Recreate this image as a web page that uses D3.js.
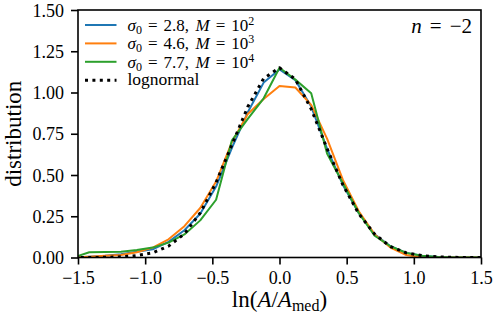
<!DOCTYPE html>
<html>
<head>
<meta charset="utf-8">
<script src="https://cdn.jsdelivr.net/npm/d3@7"></script>
<style>
  body { margin: 0; background: #fff; }
</style>
</head>
<body>
<div id="chart"></div>
<script>
// bin centres of ln(A/A_med)
const binX = [-1.534, -1.416, -1.298, -1.180, -1.062, -0.944, -0.826, -0.708, -0.590, -0.472,
  -0.354, -0.236, -0.118, 0.000, 0.118, 0.236, 0.354, 0.472, 0.590, 0.708,
  0.826, 0.944, 1.062, 1.180, 1.298, 1.416, 1.534];

const seriesM2 = [0.000, 0.005, 0.010, 0.020, 0.035, 0.050, 0.095, 0.165, 0.265, 0.430,
  0.665, 0.880, 1.060, 1.140, 1.075, 0.915, 0.660, 0.440, 0.270, 0.140,
  0.068, 0.028, 0.010, 0.003, 0.000, 0.000, 0.000];
const seriesM3 = [0.000, 0.005, 0.010, 0.015, 0.032, 0.060, 0.110, 0.190, 0.300, 0.460,
  0.700, 0.870, 0.960, 1.040, 1.030, 0.925, 0.720, 0.470, 0.280, 0.140,
  0.060, 0.015, 0.000, 0.000, 0.000, 0.000, 0.000];
const seriesM4 = [0.000, 0.032, 0.033, 0.035, 0.045, 0.060, 0.090, 0.140, 0.225, 0.350,
  0.710, 0.840, 0.965, 1.150, 1.078, 0.995, 0.630, 0.450, 0.270, 0.132,
  0.068, 0.028, 0.010, 0.003, 0.000, 0.000, 0.000];
const lognormal = [0.000, 0.000, 0.001, 0.004, 0.012, 0.028, 0.069, 0.143, 0.270, 0.455,
  0.683, 0.913, 1.085, 1.150, 1.080, 0.900, 0.660, 0.440, 0.265, 0.142,
  0.066, 0.028, 0.011, 0.004, 0.001, 0.000, 0.000];

const sigma0 = ['2.8', '4.6', '7.7'];
const mExp = ['2', '3', '4'];
const colors = ['#1f77b4', '#ff7f0e', '#2ca02c'];

const xTicks = [-1.5, -1.0, -0.5, 0.0, 0.5, 1.0, 1.5];
const yTicks = [0, 0.25, 0.5, 0.75, 1.0, 1.25, 1.5];

const FONT = '"Liberation Serif", "Times New Roman", serif';

const width = 497;
const height = 322;
const margin = { top: 10, right: 16, bottom: 64.5, left: 78 };

const svg = d3.select('#chart')
  .append('svg')
  .attr('width', width)
  .attr('height', height)
  .style('font-family', FONT);

const x = d3.scaleLinear()
  .domain([-1.5, 1.5])
  .range([margin.left, width - margin.right]);

const y = d3.scaleLinear()
  .domain([0, 1.5])
  .range([height - margin.bottom, margin.top]);

svg.append('defs')
  .append('clipPath')
  .attr('id', 'plot-clip')
  .append('rect')
  .attr('x', x(-1.5))
  .attr('y', y(1.5))
  .attr('width', x(1.5) - x(-1.5))
  .attr('height', y(0) - y(1.5));

const line = d3.line()
  .x((d) => x(d[0]))
  .y((d) => y(d[1]));

const gLines = svg.append('g')
  .attr('clip-path', 'url(#plot-clip)')
  .attr('fill', 'none')
  .attr('stroke-linejoin', 'round');

[seriesM2, seriesM3, seriesM4].forEach((s, i) => {
  gLines.append('path')
    .attr('stroke', colors[i])
    .attr('stroke-width', 2)
    .attr('d', line(binX.map((xv, j) => [xv, s[j]])));
});

gLines.append('path')
  .attr('stroke', '#000')
  .attr('stroke-width', 3)
  .attr('stroke-dasharray', '3,4.4')
  .attr('d', line(binX.map((xv, j) => [xv, lognormal[j]])));

// axes
const fmtX = (d) => d3.format('.1f')(d).replace('-', '\u2212');
const xAxis = d3.axisBottom(x).tickValues(xTicks).tickSize(7).tickPadding(5).tickFormat(fmtX);
const yAxis = d3.axisLeft(y).tickValues(yTicks).tickSize(7).tickPadding(7).tickFormat(d3.format('.2f'));

const gx = svg.append('g')
  .attr('transform', `translate(0,${y(0)})`)
  .call(xAxis);
const gy = svg.append('g')
  .attr('transform', `translate(${x(-1.5)},0)`)
  .call(yAxis);

[gx, gy].forEach((g) => {
  g.attr('font-family', null).attr('font-size', null);
  g.select('.domain').remove();
  g.selectAll('line').attr('stroke', '#000').attr('stroke-width', 1.6);
  g.selectAll('text')
    .style('font-family', FONT)
    .style('font-size', '18px')
    .attr('fill', '#000');
});
gx.selectAll('text').attr('dy', '0.8em');
gy.selectAll('text').attr('dy', '0.34em');

svg.append('rect')
  .attr('x', x(-1.5))
  .attr('y', y(1.5))
  .attr('width', x(1.5) - x(-1.5))
  .attr('height', y(0) - y(1.5))
  .attr('fill', 'none')
  .attr('stroke', '#000')
  .attr('stroke-width', 1.6);

// axis labels
const xl = svg.append('text')
  .attr('x', (x(-1.5) + x(1.5)) / 2)
  .attr('y', 307)
  .attr('text-anchor', 'middle')
  .style('font-family', FONT)
  .style('font-size', '23px');
xl.append('tspan').text('ln(');
xl.append('tspan').attr('font-style', 'italic').text('A');
xl.append('tspan').text('/');
xl.append('tspan').attr('font-style', 'italic').text('A');
xl.append('tspan').attr('dy', 4).style('font-size', '16px').text('med');
xl.append('tspan').attr('dy', -4).text(')');

svg.append('text')
  .attr('transform', `translate(20.5,${(y(0) + y(1.5)) / 2}) rotate(-90)`)
  .attr('text-anchor', 'middle')
  .style('font-family', FONT)
  .style('font-size', '23px')
  .text('distribution');

const nl = svg.append('text')
  .attr('x', 472)
  .attr('y', 33)
  .attr('text-anchor', 'end')
  .style('font-family', FONT)
  .style('font-size', '21px');
nl.append('tspan').attr('font-style', 'italic').text('n');
nl.append('tspan').attr('dx', 8).text('=');
nl.append('tspan').attr('dx', 8).text('\u22122');

// legend
const legend = svg.append('g').attr('transform', 'translate(85,25)');
const rowH = 18.4;
const eqGap = 6;

sigma0.forEach((s, i) => {
  const row = legend.append('g').attr('transform', `translate(0,${i * rowH})`);
  row.append('line')
    .attr('x1', 0).attr('x2', 31.5)
    .attr('stroke', colors[i])
    .attr('stroke-width', 2);
  const t = row.append('text')
    .attr('x', 42.5)
    .attr('y', 6)
    .style('font-family', FONT)
    .style('font-size', '17px');
  t.append('tspan').attr('font-style', 'italic').text('\u03c3');
  t.append('tspan').attr('dy', 3).style('font-size', '12px').text('0');
  t.append('tspan').attr('dy', -3).attr('dx', eqGap).text('=');
  t.append('tspan').attr('dx', eqGap).text(`${s},`);
  t.append('tspan').attr('dx', 6.5).attr('font-style', 'italic').text('M');
  t.append('tspan').attr('dx', eqGap).text('=');
  t.append('tspan').attr('dx', eqGap).text('10');
  t.append('tspan').attr('dy', -6).style('font-size', '12px').text(mExp[i]);
});

const lnRow = legend.append('g').attr('transform', `translate(0,${3 * rowH})`);
lnRow.append('line')
  .attr('x1', 0).attr('x2', 31.5)
  .attr('stroke', '#000')
  .attr('stroke-width', 3)
  .attr('stroke-dasharray', '3,4.4');
lnRow.append('text')
  .attr('x', 42.5)
  .attr('y', 4.6)
  .style('font-family', FONT)
  .style('font-size', '17.5px')
  .text('lognormal');
</script>
</body>
</html>
